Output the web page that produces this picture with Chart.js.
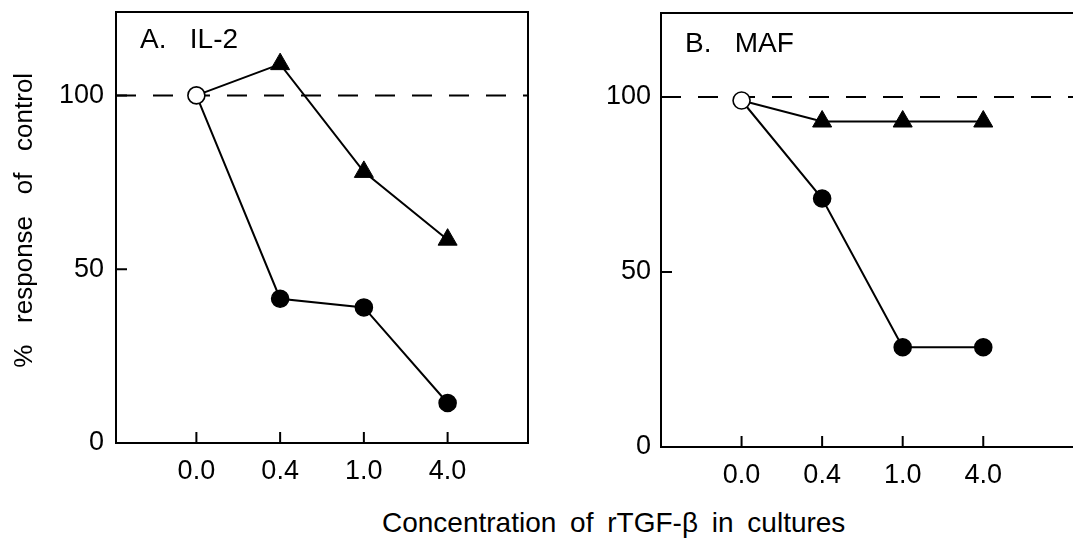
<!DOCTYPE html>
<html lang="en">
<head>
<meta charset="UTF-8">
<title>rTGF-β inhibition of IL-2 and MAF</title>
<script src="https://cdn.jsdelivr.net/npm/chart.js@4"></script>
<style>
  body {
    margin: 0;
    width: 1073px;
    height: 549px;
    overflow: hidden;
    position: relative;
    background: #fff;
    font-family: "Liberation Sans", Arial, sans-serif;
  }
  .panel { position: absolute; top: 0; height: 490px; }
  #boxA { left: 0; width: 540px; }
  #boxB { left: 540px; width: 560px; }
  .xtitle {
    position: absolute;
    left: 382px;
    top: 509px;
    font-size: 28px;
    line-height: 28px;
    word-spacing: 6px;
    white-space: pre;
    color: #000;
  }
</style>
</head>
<body>

<div class="panel" id="boxA"><canvas id="chartA"></canvas></div>
<div class="panel" id="boxB"><canvas id="chartB"></canvas></div>
<div class="xtitle">Concentration of rTGF-β in cultures</div>

<script>
  // values (% of control response)
  const doses = ["0.0", "0.4", "1.0", "4.0"];
  const yTicks = [0, 50, 100];
  const il2Circle = [100, 41.5, 39, 11.5];
  const il2Triangle = [100, 109, 78, 58.5];
  const mafCircle = [99, 71, 28.5, 28.5];
  const mafTriangle = [99, 93, 93, 93];
  const controlLevel = 100;

  const FONT = '"Liberation Sans", Arial, sans-serif';

  // box round the plot, inward ticks and the panel letter
  const framePlugin = {
    id: "frame",
    afterDraw(chart, args, opts) {
      const { ctx, chartArea: a, scales: { x, y } } = chart;
      ctx.save();
      ctx.strokeStyle = "#000";
      ctx.lineWidth = 2;
      ctx.strokeRect(a.left, a.top, a.right - a.left, a.bottom - a.top);
      ctx.beginPath();
      y.ticks.forEach((t) => {
        const py = y.getPixelForValue(t.value);
        ctx.moveTo(a.left, py);
        ctx.lineTo(a.left + 11, py);
      });
      x.ticks.forEach((t) => {
        const px = x.getPixelForValue(t.value);
        ctx.moveTo(px, a.bottom);
        ctx.lineTo(px, a.bottom - 11);
      });
      ctx.stroke();
      ctx.fillStyle = "#000";
      ctx.font = "28px " + FONT;
      ctx.textBaseline = "alphabetic";
      ctx.fillText(opts.label, a.left + 24, a.top + opts.labelDrop);
      ctx.restore();
    }
  };

  function toPoints(values) {
    return values.map((v, i) => ({ x: i, y: v }));
  }

  function makePanel(id, cfg) {
    new Chart(document.getElementById(id), {
      type: "line",
      data: {
        datasets: [
          {
            label: "circles",
            data: toPoints(cfg.circles),
            borderColor: "#000",
            borderWidth: 2,
            tension: 0,
            pointStyle: "circle",
            pointRadius: 8.5,
            pointBorderWidth: 1.6,
            pointBorderColor: "#000",
            pointBackgroundColor: cfg.circles.map((v, i) => (i === 0 ? "#fff" : "#000"))
          },
          {
            label: "triangles",
            data: toPoints(cfg.triangles),
            borderColor: "#000",
            borderWidth: 2,
            tension: 0,
            pointStyle: "triangle",
            pointRadius: cfg.triangles.map((v, i) => (i === 0 ? 0 : 11)),
            pointBorderWidth: 1,
            pointBorderColor: "#000",
            pointBackgroundColor: "#000"
          },
          {
            label: "control",
            data: [{ x: cfg.xMin, y: controlLevel }, { x: cfg.xMax, y: controlLevel }],
            borderColor: "#000",
            borderWidth: 2,
            borderDash: [20, 17],
            pointRadius: 0
          }
        ]
      },
      options: {
        responsive: true,
        maintainAspectRatio: false,
        animation: false,
        layout: { padding: { top: cfg.top, right: cfg.right, bottom: 0, left: 0 } },
        plugins: {
          legend: { display: false },
          tooltip: { enabled: false },
          frame: { label: cfg.label, labelDrop: cfg.labelDrop }
        },
        scales: {
          x: {
            type: "linear",
            min: cfg.xMin,
            max: cfg.xMax,
            grid: { display: false, drawTicks: false },
            border: { display: false },
            afterBuildTicks: (s) => { s.ticks = doses.map((d, i) => ({ value: i })); },
            afterFit: (s) => {
              s.height = cfg.xHeight;
              s.paddingLeft = 0;
              s.paddingRight = 0;
            },
            ticks: {
              padding: 12,
              color: "#000",
              font: { family: FONT, size: 27 },
              callback: (v) => doses[v]
            }
          },
          y: {
            min: 0,
            max: 124,
            grid: { display: false, drawTicks: false },
            border: { display: false },
            afterBuildTicks: (s) => { s.ticks = yTicks.map((v) => ({ value: v })); },
            afterFit: (s) => {
              s.width = cfg.yWidth;
              s.paddingTop = 0;
              s.paddingBottom = 0;
            },
            title: {
              display: cfg.yTitle !== "",
              text: cfg.yTitle,
              color: "#000",
              font: { family: FONT, size: 26 },
              padding: { top: 9 }
            },
            ticks: {
              padding: cfg.yPad,
              color: "#000",
              font: { family: FONT, size: 27 }
            }
          }
        }
      },
      plugins: [framePlugin]
    });
  }

  makePanel("chartA", {
    label: "A.   IL-2",
    labelDrop: 36,
    circles: il2Circle,
    triangles: il2Triangle,
    xMin: -0.96,
    xMax: 3.96,
    top: 8,
    right: 11,
    xHeight: 47,
    yWidth: 116,
    yPad: 12,
    yTitle: "  %   response   of   control"
  });

  makePanel("chartB", {
    label: "B.   MAF",
    labelDrop: 39,
    circles: mafCircle,
    triangles: mafTriangle,
    xMin: -1.0,
    xMax: 4.3,
    top: 13,
    right: 0,
    xHeight: 43,
    yWidth: 121,
    yPad: 10,
    yTitle: ""
  });
</script>

</body>
</html>
